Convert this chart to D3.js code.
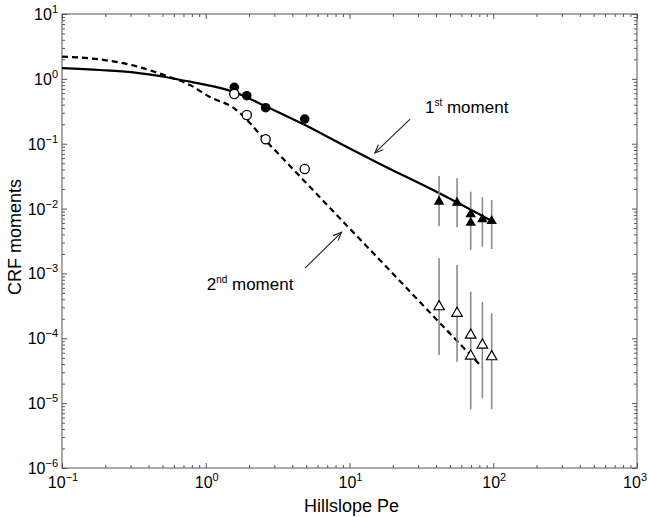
<!DOCTYPE html>
<html><head><meta charset="utf-8">
<script src="https://cdn.jsdelivr.net/npm/d3@7"></script>
<style>
body{margin:0;background:#fff}
text{font-family:"Liberation Sans",Arial,Helvetica,sans-serif;fill:#000}
</style>
</head><body>
<svg id="c" width="648" height="517"></svg>
<script>
// ---- data ----
const xDecades = [-1, 0, 1, 2, 3];
const yDecades = [1, 0, -1, -2, -3, -4, -5, -6];
const xLabel = "Hillslope Pe";
const yLabel = "CRF moments";

const circleX = [1.58, 1.93, 2.61, 4.88];
const moment1Circles = [0.741, 0.55, 0.359, 0.240];
const moment2Circles = [0.585, 0.277, 0.117, 0.0407];

const triX = [42, 56, 69.7, 69.7, 84, 97.5];
const moment1Tri = [0.0128, 0.0123, 0.00817, 0.00605, 0.00684, 0.00644];
const moment2Tri = [3.07e-4, 2.43e-4, 1.12e-4, 5.33e-5, 7.88e-5, 5.2e-5];

const barX = [42, 56, 69.7, 84, 97.5];
const moment1BarHi = [0.0318, 0.0293, 0.0182, 0.0149, 0.01356];
const moment1BarLo = [0.00538, 0.00514, 0.00230, 0.00258, 0.00238];
const moment2BarHi = [1.71e-3, 1.35e-3, 5.23e-4, 3.66e-4, 2.43e-4];
const moment2BarLo = [5.52e-5, 4.36e-5, 8.0e-6, 1.19e-5, 8.0e-6];

const curve1X = [0.1, 0.184, 0.313, 0.535, 0.776, 1.555, 2.65, 4.9, 8.6, 16.3, 40.6, 95];
const curve1Y = [1.46, 1.37, 1.26, 1.06, 0.904, 0.634, 0.372, 0.194, 0.101, 0.0487, 0.018, 0.00667];
const curve2X = [0.1, 0.184, 0.312, 0.535, 0.776, 1.07, 1.55, 2.67, 4.75, 9.6, 16.3, 30.9, 47.7, 83.5];
const curve2Y = [2.20, 1.99, 1.61, 1.107, 0.804, 0.525, 0.361, 0.106, 0.0279, 0.00545, 0.0016, 3.62e-4, 1.32e-4, 3.61e-5];

const annoLabels = [
  {text: "1", sup: "st", rest: " moment", x: 33.5, y: 0.298},
  {text: "2", sup: "nd", rest: " moment", x: 1.015, y: 5.56e-4}
];
const annoArrows = [
  {x1: 26.4, y1: 0.240, x2: 15.0, y2: 0.0720},
  {x1: 4.90, y1: 1.21e-3, x2: 8.8, y2: 4.3e-3}
];

// ---- layout ----
const W = 648, H = 517;
const m = {left: 62, top: 14, right: 11, bottom: 49};
const svg = d3.select("#c");
const x = d3.scaleLog().domain([0.1, 1000]).range([m.left, W - m.right]);
const y = d3.scaleLog().domain([1e-6, 10]).range([H - m.bottom, m.top]);
const x0 = m.left, x1 = W - m.right, y0 = H - m.bottom, y1 = m.top;

const axisColor = "#555";
const xMinor = [], yMinor = [];
for (let e = -1; e < 3; e++) for (let k = 2; k <= 9; k++) xMinor.push(k * Math.pow(10, e));
for (let e = -6; e < 1; e++) for (let k = 2; k <= 9; k++) yMinor.push(k * Math.pow(10, e));
const xMajor = xDecades.map(e => Math.pow(10, e));
const yMajor = yDecades.map(e => Math.pow(10, e));

function styleAxis(g) {
  g.select(".domain").remove();
  g.selectAll(".tick line").attr("stroke", axisColor).attr("stroke-width", 1);
  g.selectAll(".tick text").remove();
}
const majLen = 5, minLen = 3;
svg.append("g").attr("transform", `translate(0,${y0})`).call(d3.axisBottom(x).tickValues(xMajor).tickSize(-majLen)).call(styleAxis);
svg.append("g").attr("transform", `translate(0,${y0})`).call(d3.axisBottom(x).tickValues(xMinor).tickSize(-minLen)).call(styleAxis);
svg.append("g").attr("transform", `translate(0,${y1})`).call(d3.axisTop(x).tickValues(xMajor).tickSize(-majLen)).call(styleAxis);
svg.append("g").attr("transform", `translate(0,${y1})`).call(d3.axisTop(x).tickValues(xMinor).tickSize(-minLen)).call(styleAxis);
svg.append("g").attr("transform", `translate(${x0},0)`).call(d3.axisLeft(y).tickValues(yMajor).tickSize(-majLen)).call(styleAxis);
svg.append("g").attr("transform", `translate(${x0},0)`).call(d3.axisLeft(y).tickValues(yMinor).tickSize(-minLen)).call(styleAxis);
svg.append("g").attr("transform", `translate(${x1},0)`).call(d3.axisRight(y).tickValues(yMajor).tickSize(-majLen)).call(styleAxis);
svg.append("g").attr("transform", `translate(${x1},0)`).call(d3.axisRight(y).tickValues(yMinor).tickSize(-minLen)).call(styleAxis);

svg.append("rect").attr("x", x0).attr("y", y1).attr("width", x1 - x0).attr("height", y0 - y1)
  .attr("fill", "none").attr("stroke", axisColor).attr("stroke-width", 1);

const minus = e => (e < 0 ? "\u2212" + (-e) : "" + e);
// x tick labels
xDecades.forEach((e, i) => {
  const last = i === xDecades.length - 1;
  const t = svg.append("text").attr("x", last ? W - 1 : x(Math.pow(10, e)) + 1).attr("y", y0 + 20)
    .attr("text-anchor", last ? "end" : "middle").style("font-size", "16px");
  t.append("tspan").text("10");
  t.append("tspan").attr("dy", -7).style("font-size", "11px").text(minus(e));
});
// y tick labels
yDecades.forEach(e => {
  const t = svg.append("text").attr("x", x0 - 4).attr("y", y(Math.pow(10, e)) + 6)
    .attr("text-anchor", "end").style("font-size", "16px");
  t.append("tspan").text("10");
  t.append("tspan").attr("dy", -7).style("font-size", "11px").text(minus(e));
});

svg.append("text").attr("x", (x0 + x1) / 2 + 2).attr("y", 512).attr("text-anchor", "middle")
  .style("font-size", "18px").text(xLabel);
svg.append("text").attr("transform", `translate(21,${(y0 + y1) / 2 - 4}) rotate(-90)`)
  .attr("text-anchor", "middle").style("font-size", "18px").text(yLabel);

// curves
const line = d3.line().x(d => x(d[0])).y(d => y(d[1])).curve(d3.curveMonotoneX);
svg.append("path").datum(curve1X.map((v, i) => [v, curve1Y[i]])).attr("d", line)
  .attr("fill", "none").attr("stroke", "#000").attr("stroke-width", 2.2);
svg.append("path").datum(curve2X.map((v, i) => [v, curve2Y[i]])).attr("d", line)
  .attr("fill", "none").attr("stroke", "#000").attr("stroke-width", 2.2).attr("stroke-dasharray", "6,4");

// error bars
const bars = svg.append("g").attr("stroke", "#8a8a8a").attr("stroke-width", 1.6);
barX.forEach((v, i) => {
  bars.append("line").attr("x1", x(v)).attr("x2", x(v)).attr("y1", y(moment1BarHi[i])).attr("y2", y(moment1BarLo[i]));
  bars.append("line").attr("x1", x(v)).attr("x2", x(v)).attr("y1", y(moment2BarHi[i])).attr("y2", y(moment2BarLo[i]));
});

// markers
const tri = d3.symbol().type(d3.symbolTriangle).size(48);
circleX.forEach((v, i) => {
  svg.append("circle").attr("cx", x(v)).attr("cy", y(moment1Circles[i])).attr("r", 4.8).attr("fill", "#000");
  svg.append("circle").attr("cx", x(v)).attr("cy", y(moment2Circles[i])).attr("r", 4.6)
    .attr("fill", "#fff").attr("stroke", "#000").attr("stroke-width", 1.3);
});
triX.forEach((v, i) => {
  svg.append("path").attr("d", tri).attr("transform", `translate(${x(v)},${y(moment1Tri[i])})`).attr("fill", "#000");
  svg.append("path").attr("d", tri).attr("transform", `translate(${x(v)},${y(moment2Tri[i])})`)
    .attr("fill", "#fff").attr("stroke", "#000").attr("stroke-width", 1.2);
});

// annotations
annoLabels.forEach(a => {
  const t = svg.append("text").attr("x", x(a.x)).attr("y", y(a.y)).style("font-size", "17px");
  t.append("tspan").text(a.text);
  t.append("tspan").attr("dy", -7).style("font-size", "10px").text(a.sup);
  t.append("tspan").attr("dy", 7).text(a.rest);
});
annoArrows.forEach(a => {
  const X1 = x(a.x1), Y1 = y(a.y1), X2 = x(a.x2), Y2 = y(a.y2);
  const ang = Math.atan2(Y2 - Y1, X2 - X1), L = 9, sp = 0.4;
  const g = svg.append("g").attr("stroke", "#222").attr("stroke-width", 1.1).attr("fill", "none");
  g.append("line").attr("x1", X1).attr("y1", Y1).attr("x2", X2).attr("y2", Y2);
  g.append("path").attr("d",
    `M${X2 - L * Math.cos(ang - sp)},${Y2 - L * Math.sin(ang - sp)}L${X2},${Y2}L${X2 - L * Math.cos(ang + sp)},${Y2 - L * Math.sin(ang + sp)}`);
});
</script>
</body></html>
